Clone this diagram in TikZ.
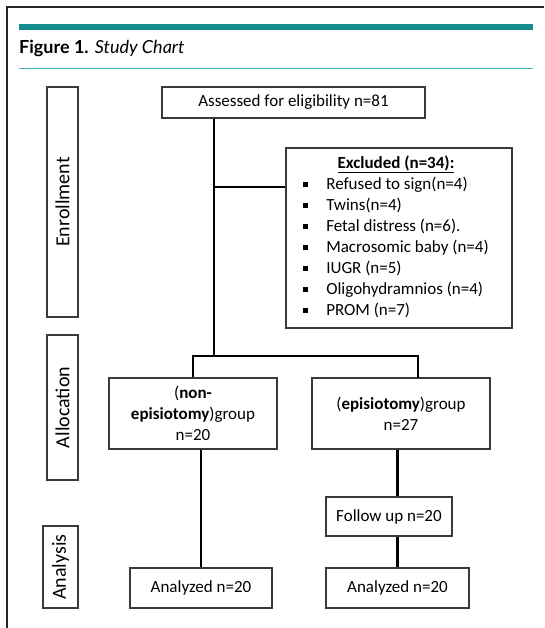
\documentclass[tikz,border=0pt]{standalone}
\usepackage{fontspec}
\setmainfont{Carlito}
\newfontfamily\titlefont{Lato}
\definecolor{tealbar}{HTML}{138C8E}
\definecolor{teallight}{HTML}{4CB8BE}
\definecolor{boxgray}{HTML}{3A3A3A}
\newcommand{\blt}{\raisebox{3pt}{\rule{5pt}{5pt}}}
\begin{document}
\begin{tikzpicture}[x=1pt,y=-1pt,
  box/.style={draw=boxgray, line width=1.2pt, inner sep=0pt, align=center, fill=white,
    font=\fontsize{17}{21}\selectfont},
  sidebox/.style={box, rotate=90, font=\fontsize{20}{24}\selectfont},
  conn/.style={line width=2.6pt, black},
  frame/.style={line width=1.5pt, black!85}]
\useasboundingbox (0,0) rectangle (544,628);
% outer frame and header
\draw[frame] (7,628) -- (7,7) -- (544,7);
\fill[tealbar] (19,24.5) rectangle (533,30);
\draw[teallight, line width=1.2pt] (19,68.5) -- (533,68.5);
\node[anchor=base west, inner sep=0pt, font=\titlefont\fontsize{18}{21}\selectfont] (title) at (19,54)
  {\textbf{Figure 1.} \textit{Study Chart}};
% stage labels
\node[sidebox, minimum width=230pt, minimum height=31pt] (enroll) at (62.5,202) {Enrollment};
\node[sidebox, minimum width=145pt, minimum height=31pt] (alloc) at (62.5,407.5) {Allocation};
\node[sidebox, minimum width=82pt, minimum height=35pt] (analys) at (60.5,567) {Analysis};
% boxes
\node[box, minimum width=263pt, minimum height=31pt] (assess) at (293.5,102.5) {Assessed for eligibility n=81};
\node[box, minimum width=226pt, minimum height=180pt] (excl) at (399,238)
  {\begin{tabular}{@{}p{23pt}@{}l@{}}
   \multicolumn{2}{c}{\textbf{\underline{Excluded (n=34):}}}\\
   \blt & Refused to sign(n=4)\\
   \blt & Twins(n=4)\\
   \blt & Fetal distress (n=6).\\
   \blt & Macrosomic baby (n=4)\\
   \blt & IUGR (n=5)\\
   \blt & Oligohydramnios (n=4)\\
   \blt & PROM (n=7)
   \end{tabular}\hspace*{6pt}};
\node[box, minimum width=168pt, minimum height=71pt] (nonepi) at (193,413.5)
  {(\textbf{non-}\\\textbf{episiotomy})group\\n=20};
\node[box, minimum width=178pt, minimum height=71pt] (epi) at (401,413.5)
  {(\textbf{episiotomy})group\\n=27};
\node[box, minimum width=126pt, minimum height=39pt] (follow) at (389,516.5) {Follow up n=20};
\node[box, minimum width=142pt, minimum height=40pt] (anL) at (201,588) {Analyzed n=20};
\node[box, minimum width=143pt, minimum height=40pt] (anR) at (397.5,588) {Analyzed n=20};
% junctions
\coordinate (split) at (214,356);
\coordinate (exj) at (214,187);
\coordinate (epiin) at (418,378);
% connectors
\draw[conn] (assess.south -| split) -- (split);
\draw[conn] (exj) -- (exj -| excl.west);
\draw[conn] (nonepi.north) |- (split) -| (epiin);
\draw[conn] (nonepi.south -| anL.north) -- (anL.north);
\draw[conn] (epi.south -| anR.north) -- (anR.north |- follow.north);
\draw[conn] (follow.south -| anR.north) -- (anR.north);
\end{tikzpicture}
\end{document}
